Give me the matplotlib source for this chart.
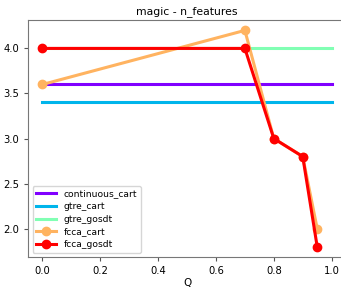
import matplotlib
matplotlib.use("Agg")
import matplotlib.pyplot as plt
import numpy as np

# data
q_full = [0.0, 1.0]
continuous_cart = [3.6, 3.6]
gtre_cart = [3.4, 3.4]
gtre_gosdt = [4.0, 4.0]
q_fcca = [0.0, 0.7, 0.8, 0.9, 0.95]
fcca_cart = [3.6, 4.2, 3.0, 2.8, 2.0]
fcca_gosdt = [4.0, 4.0, 3.0, 2.8, 1.8]

colors = plt.cm.rainbow(np.linspace(0, 1, 5))

fig = plt.figure(figsize=(3.41, 2.88), dpi=100)
ax = fig.add_axes([0.082, 0.106, 0.933, 0.826])

ax.plot(q_full, continuous_cart, color=colors[0], lw=2.2, label='continuous_cart')
ax.plot(q_full, gtre_cart, color=colors[1], lw=2.2, label='gtre_cart')
ax.plot(q_full, gtre_gosdt, color=colors[2], lw=2.2, label='gtre_gosdt')
ax.plot(q_fcca, fcca_cart, color=colors[3], lw=2.2, marker='o', ms=6, label='fcca_cart')
ax.plot(q_fcca, fcca_gosdt, color=colors[4], lw=2.2, marker='o', ms=6, label='fcca_gosdt')

ax.set_title('magic - n_features', fontsize=7.8, pad=4)
ax.set_xlabel('Q', fontsize=7.5, labelpad=1)
ax.tick_params(labelsize=7.2, length=3, color='#555555')
for s in ax.spines.values():
    s.set_color('#777777')
ax.spines['right'].set_visible(False)
ax.set_yticks([2.0, 2.5, 3.0, 3.5, 4.0])
ax.legend(loc='lower left', fontsize=6.6, handlelength=2.2, borderpad=0.4,
          labelspacing=0.4)

fig.savefig('out.png', dpi=100)
